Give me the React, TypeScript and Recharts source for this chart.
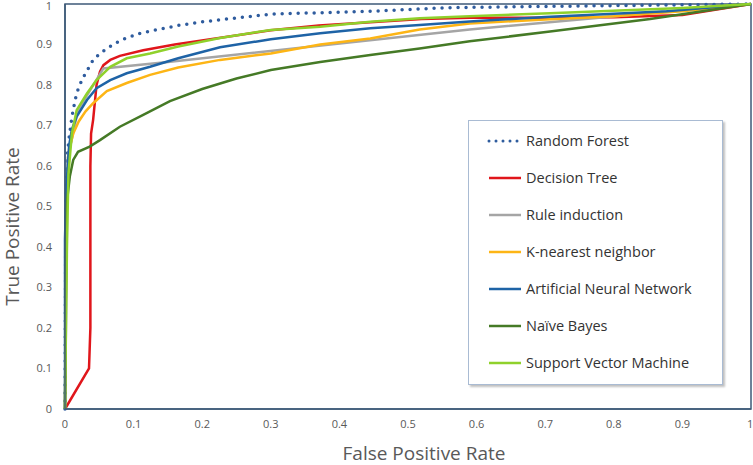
import React from 'react';
import {
  LineChart,
  Line,
  XAxis,
  YAxis,
  ReferenceArea,
} from 'recharts';

type Pt = [number, number];

// ROC points: [false positive rate, true positive rate]
const randomForest: Pt[] = [
  [0, 0], [0.001, 0.45], [0.003, 0.62], [0.006, 0.67], [0.01, 0.72], [0.015, 0.765],
  [0.02, 0.795], [0.027, 0.82], [0.034, 0.841], [0.041, 0.862], [0.051, 0.878],
  [0.061, 0.89], [0.073, 0.903], [0.085, 0.913], [0.11, 0.928], [0.135, 0.937],
  [0.165, 0.947], [0.2, 0.956], [0.3, 0.975], [0.445, 0.982], [0.56, 0.991],
  [0.7, 0.994], [0.85, 0.997], [1, 1],
];

const decisionTree: Pt[] = [
  [0, 0], [0.035, 0.1], [0.037, 0.2], [0.037, 0.6], [0.038, 0.68], [0.041, 0.714],
  [0.046, 0.8], [0.051, 0.833], [0.056, 0.849], [0.066, 0.862], [0.08, 0.872],
  [0.114, 0.886], [0.16, 0.9], [0.3, 0.935], [0.37, 0.947], [0.445, 0.955],
  [0.52, 0.963], [0.59, 0.966], [0.7, 0.966], [0.8, 0.967], [0.9, 0.973], [1, 1],
];

const ruleInduction: Pt[] = [
  [0, 0], [0.004, 0.62], [0.019, 0.738], [0.056, 0.841], [0.15, 0.857],
  [0.59, 0.937], [1, 1],
];

const kNearest: Pt[] = [
  [0, 0], [0.002, 0.5], [0.006, 0.64], [0.012, 0.68], [0.02, 0.71], [0.03, 0.735],
  [0.041, 0.755], [0.061, 0.785], [0.09, 0.805], [0.124, 0.825], [0.165, 0.843],
  [0.226, 0.862], [0.3, 0.878], [0.372, 0.9], [0.445, 0.915], [0.517, 0.937],
  [0.59, 0.952], [0.7, 0.962], [0.8, 0.97], [0.9, 0.982], [1, 1],
];

const neuralNet: Pt[] = [
  [0, 0], [0, 0.42], [0.002, 0.55], [0.006, 0.65], [0.01, 0.69], [0.017, 0.722],
  [0.032, 0.763], [0.046, 0.792], [0.066, 0.812], [0.09, 0.829], [0.124, 0.845],
  [0.165, 0.866], [0.226, 0.893], [0.3, 0.913], [0.372, 0.928], [0.445, 0.94],
  [0.517, 0.948], [0.59, 0.957], [0.7, 0.968], [0.877, 0.982], [1, 1],
];

const naiveBayes: Pt[] = [
  [0, 0], [0.002, 0.5], [0.007, 0.574], [0.012, 0.615], [0.019, 0.635],
  [0.036, 0.648], [0.051, 0.664], [0.08, 0.697], [0.114, 0.726], [0.153, 0.76],
  [0.2, 0.79], [0.25, 0.816], [0.3, 0.837], [0.372, 0.857], [0.445, 0.874],
  [0.517, 0.89], [0.59, 0.908], [0.707, 0.932], [0.853, 0.963], [1, 1],
];

const svm: Pt[] = [
  [0, 0], [0.003, 0.42], [0.005, 0.58], [0.01, 0.68], [0.017, 0.738],
  [0.032, 0.779], [0.046, 0.812], [0.066, 0.845], [0.09, 0.866], [0.124, 0.878],
  [0.165, 0.895], [0.226, 0.916], [0.3, 0.936], [0.372, 0.944], [0.445, 0.956],
  [0.517, 0.965], [0.59, 0.97], [0.707, 0.977], [0.9, 0.99], [1, 1],
];

const ticks = [0, 0.1, 0.2, 0.3, 0.4, 0.5, 0.6, 0.7, 0.8, 0.9, 1];

const series = [
  { name: 'Random Forest', pts: randomForest, color: '#2F5C9E', dotted: true },
  { name: 'Decision Tree', pts: decisionTree, color: '#E0161B' },
  { name: 'Rule induction', pts: ruleInduction, color: '#A5A5A5' },
  { name: 'K-nearest neighbor', pts: kNearest, color: '#FDB515' },
  { name: 'Artificial Neural Network', pts: neuralNet, color: '#1E63A6' },
  { name: 'Naïve Bayes', pts: naiveBayes, color: '#457A26' },
  { name: 'Support Vector Machine', pts: svm, color: '#8FD12B' },
];

const font = '"Open Sans", sans-serif';
const frame = '#3E5A78';
const titleStyle = { fontSize: 19, fill: '#595959', fontFamily: font };

const XTitle = ({ viewBox }: any) => (
  <text x={viewBox.x + viewBox.width / 2 + 16} y={460} textAnchor="middle" style={titleStyle}>
    False Positive Rate
  </text>
);

const YTitle = ({ viewBox }: any) => {
  const cy = viewBox.y + viewBox.height / 2 + 20;
  return (
    <text x={19} y={cy} textAnchor="middle" transform={`rotate(-90 19 ${cy})`} style={titleStyle}>
      True Positive Rate
    </text>
  );
};

// legend drawn as an overlay so it does not shrink the plot area
const LegendBox = () => (
  <div
    style={{
      position: 'absolute',
      left: 468,
      top: 120,
      width: 255,
      height: 265,
      boxSizing: 'border-box',
      border: '1px solid #A9BBD3',
      boxShadow: '2px 2px 2px rgba(0,0,0,0.25)',
      background: '#fff',
      padding: '1px 0 0 18px',
      fontFamily: font,
      fontSize: 14.5,
      color: '#333',
    }}
  >
    {series.map((s) => (
      <div key={s.name} style={{ display: 'flex', alignItems: 'center', height: 37 }}>
        <svg width={36} height={6} style={{ marginRight: 3 }}>
          <line
            x1={2}
            y1={3}
            x2={34}
            y2={3}
            stroke={s.color}
            strokeWidth={s.dotted ? 3 : 2.5}
            strokeLinecap={s.dotted ? 'round' : 'butt'}
            strokeDasharray={s.dotted ? '0 7' : undefined}
          />
        </svg>
        <span>{s.name}</span>
      </div>
    ))}
  </div>
);

export default function App() {
  return (
    <div style={{ position: 'absolute', left: 0, top: 0, width: 753, height: 465, background: '#fff' }}>
      <LineChart width={753} height={465} margin={{ top: 4, right: 2, left: 0, bottom: 0 }}>
        <XAxis
          type="number"
          dataKey="x"
          domain={[0, 1]}
          ticks={ticks}
          tickLine={false}
          tickSize={0}
          tickMargin={11}
          axisLine={{ stroke: frame, strokeWidth: 1.5 }}
          tick={{ fontSize: 11, fill: '#595959', fontFamily: font }}
          height={56}
          label={<XTitle />}
        />
        <YAxis
          type="number"
          dataKey="y"
          domain={[0, 1]}
          ticks={ticks}
          tickLine={false}
          tickSize={0}
          tickMargin={13}
          axisLine={{ stroke: frame, strokeWidth: 1.5 }}
          tick={{ fontSize: 11, fill: '#595959', fontFamily: font }}
          width={65}
          label={<YTitle />}
        />
        <ReferenceArea x1={0} x2={1} y1={0} y2={1} fill="none" stroke={frame} strokeWidth={1.5} />
        {series.map((s) => (
          <Line
            key={s.name}
            name={s.name}
            data={s.pts.map(([x, y]) => ({ x, y }))}
            dataKey="y"
            type="linear"
            stroke={s.color}
            strokeWidth={s.dotted ? 3.5 : 2.5}
            strokeLinecap={s.dotted ? 'round' : 'butt'}
            strokeDasharray={s.dotted ? '0 8' : undefined}
            dot={false}
            activeDot={false}
            isAnimationActive={false}
          />
        ))}
      </LineChart>
      <LegendBox />
    </div>
  );
}
